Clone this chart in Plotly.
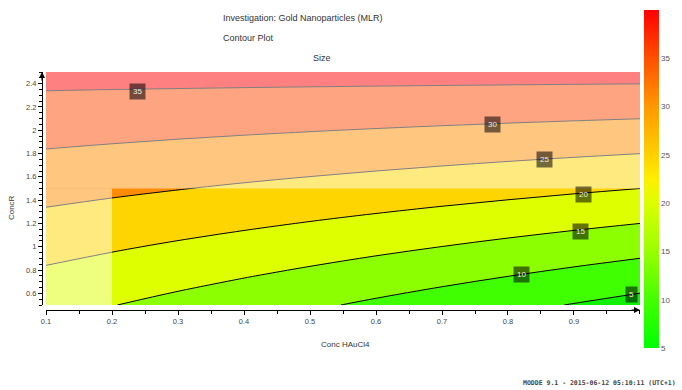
import plotly.graph_objects as go

# Factor settings (grid of the fitted response surface)
conc_hauc = [0.1, 0.2, 0.3, 0.4, 0.5, 0.6, 0.7, 0.8, 0.9, 1.0]
conc_r = [0.5, 0.75, 1.0, 1.25, 1.5, 1.75, 2.0, 2.25, 2.5]

# Predicted Size, one row per ConcR value
size_grid = [
    [16.60, 15.12, 13.65, 12.17, 10.69, 9.21, 7.73, 6.26, 4.78, 3.30],
    [19.10, 17.81, 16.52, 15.23, 13.94, 12.64, 11.35, 10.06, 8.77, 7.48],
    [21.60, 20.50, 19.39, 18.29, 17.18, 16.07, 14.97, 13.86, 12.76, 11.65],
    [24.11, 23.19, 22.27, 21.35, 20.43, 19.51, 18.59, 17.67, 16.75, 15.83],
    [26.61, 25.87, 25.14, 24.40, 23.67, 22.94, 22.20, 21.47, 20.73, 20.00],
    [29.11, 28.56, 28.01, 27.46, 26.92, 26.37, 25.82, 25.27, 24.72, 24.18],
    [31.61, 31.25, 30.88, 30.52, 30.16, 29.80, 29.44, 29.07, 28.71, 28.35],
    [34.11, 33.93, 33.76, 33.58, 33.41, 33.23, 33.05, 32.88, 32.70, 32.53],
    [36.61, 36.62, 36.63, 36.64, 36.65, 36.66, 36.67, 36.68, 36.69, 36.70],
]

# Contour levels and where each level label sits (ConcHAuCl4, ConcR)
levels = [5, 10, 15, 20, 25, 30, 35]
label_pos = {
    35: (0.239, 2.33),
    30: (0.776, 2.05),
    25: (0.856, 1.75),
    20: (0.915, 1.45),
    15: (0.910, 1.13),
    10: (0.820, 0.76),
    5: (0.987, 0.59),
}

# Investigated design region (outside is shaded)
design_x = (0.2, 1.0)
design_y = (0.5, 1.5)

x_ticks = [0.1, 0.2, 0.3, 0.4, 0.5, 0.6, 0.7, 0.8, 0.9]
y_ticks = [0.6, 0.8, 1.0, 1.2, 1.4, 1.6, 1.8, 2.0, 2.2, 2.4]
cbar_ticks = [5, 10, 15, 20, 25, 30, 35]

FONT = "Liberation Sans Narrow, Arial Narrow, Liberation Sans, sans-serif"
TXT = "#333333"

band_colors = ["#10F000", "#40FF00", "#8CFF00", "#DDFF00",
               "#FFD500", "#FF8C00", "#FF4800", "#FF0000"]
band_scale = [[i / (len(band_colors) - 1), c] for i, c in enumerate(band_colors)]

bar_scale = [
    [0.0, "#00FF00"], [0.143, "#44FF00"], [0.286, "#99FF00"],
    [0.429, "#DDFF00"], [0.5, "#FFEE00"], [0.571, "#FFD000"],
    [0.714, "#FF9900"], [0.857, "#FF5000"], [1.0, "#FF0000"],
]

fig = go.Figure()

fig.add_trace(go.Contour(
    x=conc_hauc, y=conc_r, z=size_grid,
    autocontour=False,
    contours=dict(start=levels[0], end=levels[-1], size=levels[1] - levels[0],
                  coloring="fill", showlabels=False),
    colorscale=band_scale,
    line=dict(color="black", width=1),
    showscale=False,
    hoverinfo="skip",
))

# Continuous colour legend for Size
fig.add_trace(go.Scatter(
    x=[None], y=[None], mode="markers", showlegend=False, hoverinfo="skip",
    marker=dict(
        color=[5], cmin=5, cmax=40, colorscale=bar_scale, showscale=True,
        colorbar=dict(
            x=1.0067, xanchor="left", y=1.2605, yanchor="top",
            len=338, lenmode="pixels", thickness=15, outlinewidth=0,
            xpad=0, ypad=0,
            tickvals=cbar_ticks, ticks="",
            tickfont=dict(family=FONT, size=8, color="#555555"),
        ),
    ),
))

# Wash out everything outside the design region
shade = dict(type="rect", xref="x", yref="y", fillcolor="white",
             opacity=0.5, line=dict(width=0), layer="above")
fig.add_shape(x0=conc_hauc[0], x1=design_x[0], y0=design_y[0], y1=design_y[1], **shade)
fig.add_shape(x0=conc_hauc[0], x1=conc_hauc[-1], y0=design_y[1], y1=conc_r[-1], **shade)

annotations = []
for lv in levels:
    lx, ly = label_pos[lv]
    annotations.append(dict(
        x=lx, y=ly, xref="x", yref="y", text=str(lv), showarrow=False,
        font=dict(family=FONT, size=8, color="#EEEEEE"),
        bgcolor="rgba(0,0,0,0.55)", borderpad=3,
    ))

# Axis arrow heads
annotations.append(dict(x=conc_hauc[-1], y=0, xref="x", yref="paper", text="",
                        showarrow=True, ax=-10, ay=0, arrowhead=2, arrowsize=1,
                        arrowwidth=1.2, arrowcolor="black"))
annotations.append(dict(x=0, y=conc_r[-1], xref="paper", yref="y", text="",
                        showarrow=True, ax=0, ay=10, arrowhead=2, arrowsize=1,
                        arrowwidth=1.2, arrowcolor="black"))

# Titles and footer
annotations += [
    dict(x=0.2993, y=1.227, xref="paper", yref="paper", xanchor="left", yanchor="middle",
         text="Investigation: Gold Nanoparticles (MLR)", showarrow=False,
         font=dict(family=FONT, size=9, color=TXT)),
    dict(x=0.2993, y=1.143, xref="paper", yref="paper", xanchor="left", yanchor="middle",
         text="Contour Plot", showarrow=False, font=dict(family=FONT, size=9, color=TXT)),
    dict(x=0.468, y=1.059, xref="paper", yref="paper", xanchor="center", yanchor="middle",
         text="Size", showarrow=False, font=dict(family=FONT, size=9, color=TXT)),
    dict(x=0.507, y=-0.147, xref="paper", yref="paper", xanchor="center", yanchor="middle",
         text="Conc HAuCl4", showarrow=False, font=dict(family=FONT, size=8, color=TXT)),
    dict(x=-0.050, y=0.4286, xref="paper", yref="paper", xanchor="center", yanchor="middle",
         text="ConcR", textangle=-90, showarrow=False,
         font=dict(family=FONT, size=8, color=TXT)),
    dict(x=1.0635, y=-0.307, xref="paper", yref="paper", xanchor="right", yanchor="middle",
         text="<b>MODDE 9.1 - 2015-06-12 05:10:11 (UTC+1)</b>", showarrow=False,
         font=dict(family="DejaVu Sans Mono, monospace", size=6.5, color="#444444")),
]

axis_common = dict(showgrid=False, zeroline=False, showline=True, linecolor="black",
                   linewidth=1, ticks="outside", ticklen=4, tickcolor="black",
                   anchor="free", position=0, automargin=False,
                   tickfont=dict(family=FONT, size=7.5, color="#444444"))

fig.update_layout(
    width=682, height=390,
    margin=dict(l=42, r=42, t=72, b=80, autoexpand=False),
    paper_bgcolor="white", plot_bgcolor="white",
    showlegend=False,
    xaxis=dict(range=[conc_hauc[0], conc_hauc[-1]], domain=[0.0067, 1],
               tickvals=x_ticks, ticktext=[f"{v:g}" for v in x_ticks],
               minor=dict(dtick=0.05, ticks="outside", ticklen=3, tickcolor="black"),
               **axis_common),
    yaxis=dict(range=[conc_r[0], conc_r[-1]], domain=[0.021, 1],
               tickvals=y_ticks, ticktext=[f"{v:g}" for v in y_ticks],
               minor=dict(dtick=0.05, ticks="outside", ticklen=3, tickcolor="black"),
               **axis_common),
    annotations=annotations,
)

fig.write_html("out.html")
